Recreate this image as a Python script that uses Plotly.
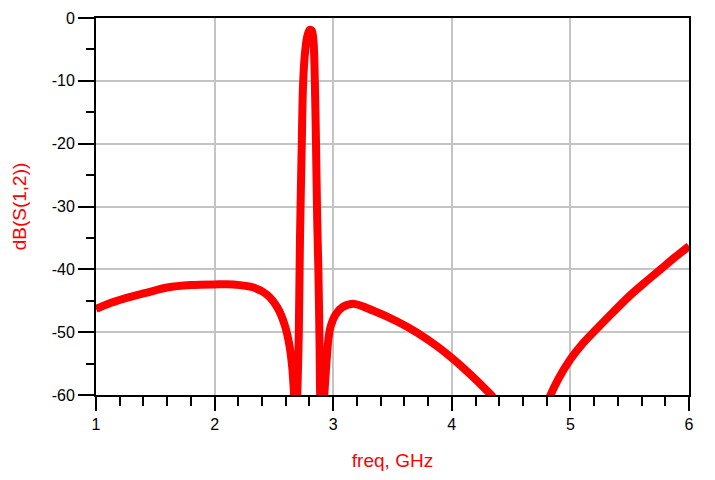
import plotly.graph_objects as go

# S12 response (GHz, dB); values below -60 are just off-scale
freq = [1.00, 1.10, 1.23, 1.43, 1.60, 1.80, 2.00, 2.16, 2.33, 2.44, 2.53, 2.59,
        2.63, 2.655, 2.67, 2.685, 2.70, 2.71, 2.72, 2.735, 2.745, 2.76, 2.78,
        2.80, 2.82, 2.835, 2.845, 2.855, 2.865, 2.875, 2.885, 2.89, 2.905,
        2.925, 2.94, 2.96, 2.98, 3.02, 3.08, 3.18, 3.34, 3.54, 3.71, 3.88,
        4.05, 4.16, 4.28, 4.35, 4.42, 4.60, 4.80, 4.90, 5.00, 5.10, 5.20,
        5.35, 5.50, 5.64, 5.76, 5.88, 6.00]
s12_db = [-46.3, -45.5, -44.7, -43.7, -42.9, -42.5, -42.4, -42.4, -42.9, -44.0,
          -46.1, -48.8, -52.0, -55.7, -60.0, -66.0, -58.0, -50.0, -35.0, -20.0,
          -11.0, -6.0, -3.0, -1.9, -2.0, -4.0, -10.0, -20.0, -32.0, -40.0,
          -52.0, -60.0, -68.0, -60.0, -55.7, -51.0, -49.0, -47.2, -46.0, -45.5,
          -46.6, -48.3, -50.1, -52.3, -54.9, -56.8, -59.0, -60.4, -63.0, -75.0,
          -61.5, -57.4, -54.3, -51.9, -49.9, -47.0, -44.2, -41.9, -40.0, -38.1,
          -36.3]

x_ticks = [1, 2, 3, 4, 5, 6]
y_ticks = [0, -10, -20, -30, -40, -50, -60]
y_labels = ["0", "-10", "-20", "-30", "-40", "-50", "-60"]

fig = go.Figure()
fig.add_trace(go.Scatter(x=freq, y=s12_db, mode="lines",
                         line=dict(color="#ff0000", width=8, shape="spline", smoothing=0.8),
                         showlegend=False))

axis_common = dict(showline=True, linecolor="black", linewidth=1.8, mirror=True,
                   showgrid=True, gridcolor="#c4c4c4", gridwidth=1.5,
                   ticks="outside", tickcolor="black", tickwidth=1.5, automargin=False,
                   zeroline=False, tickfont=dict(size=16, color="black"))

fig.update_xaxes(axis_common, range=[1, 6], tickvals=x_ticks, ticklen=14,
                 minor=dict(dtick=0.2, ticklen=9, ticks="outside", tickcolor="black",
                            tickwidth=1.5, showgrid=False),
                 title=dict(text="freq, GHz", font=dict(size=19, color="#ff0000"), standoff=22))
fig.update_yaxes(axis_common, range=[-60, 0], tickvals=y_ticks, ticktext=y_labels, ticklen=16,
                 minor=dict(dtick=5, ticklen=8, ticks="outside", tickcolor="black",
                            tickwidth=1.5, showgrid=False),
                 title=dict(text="dB(S(1,2))", font=dict(size=19, color="#ff0000"), standoff=20))

# page body adds an 8px offset, so margins are trimmed to land the plot box at 96..689 x 18..395
fig.update_layout(width=715, height=480, plot_bgcolor="white", paper_bgcolor="white",
                  font_family="Liberation Sans, Arial, sans-serif",
                  margin=dict(l=88, r=34, t=10, b=93, autoexpand=False))

fig.write_html("out.html")
